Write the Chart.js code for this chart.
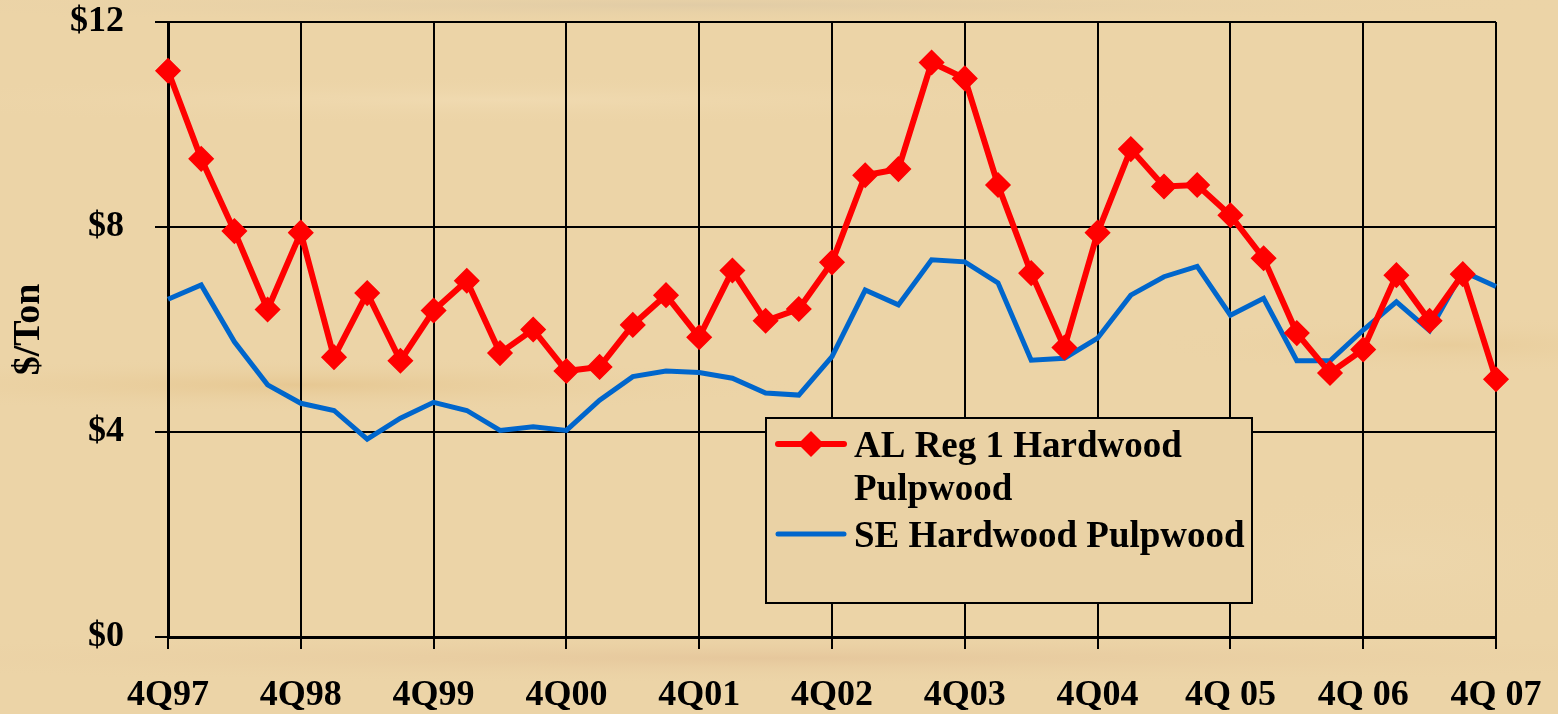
<!DOCTYPE html>
<html>
<head>
<meta charset="utf-8">
<script src="https://cdn.jsdelivr.net/npm/chart.js@4"></script>
<style>
  html, body { margin: 0; padding: 0; background: #ecd4a7; }
  canvas { display: block; }
</style>
</head>
<body>
<canvas id="myChart" width="1558" height="714"></canvas>
<script>
const quarters = [
    '4Q97',
    '1Q98', '2Q98', '3Q98', '4Q98',
    '1Q99', '2Q99', '3Q99', '4Q99',
    '1Q00', '2Q00', '3Q00', '4Q00',
    '1Q01', '2Q01', '3Q01', '4Q01',
    '1Q02', '2Q02', '3Q02', '4Q02',
    '1Q03', '2Q03', '3Q03', '4Q03',
    '1Q04', '2Q04', '3Q04', '4Q04',
    '1Q05', '2Q05', '3Q05', '4Q05',
    '1Q06', '2Q06', '3Q06', '4Q06',
    '1Q07', '2Q07', '3Q07', '4Q07'
];
const tickLabels = ['4Q97', '4Q98', '4Q99', '4Q00', '4Q01', '4Q02', '4Q03', '4Q04', '4Q 05', '4Q 06', '4Q 07'];

const alReg1 = [11.05, 9.33, 7.92, 6.39, 7.89, 5.46, 6.71, 5.39, 6.37, 6.95,
    5.54, 6.00, 5.19, 5.27, 6.09, 6.67, 5.85, 7.15, 6.17, 6.40,
    7.31, 9.01, 9.13, 11.21, 10.90, 8.82, 7.10, 5.65, 7.89, 9.52,
    8.79, 8.82, 8.23, 7.39, 5.93, 5.15, 5.61, 7.06, 6.17, 7.08, 5.03];
const seHardwood = [6.59, 6.87, 5.76, 4.92, 4.56, 4.42, 3.86, 4.27, 4.58, 4.42,
    4.03, 4.10, 4.03, 4.62, 5.08, 5.19, 5.16, 5.05, 4.76, 4.72,
    5.47, 6.77, 6.48, 7.36, 7.32, 6.91, 5.40, 5.44, 5.83, 6.67,
    7.03, 7.23, 6.28, 6.61, 5.39, 5.39, 5.99, 6.54, 5.98, 7.13, 6.84];

const serif = '"Liberation Serif", "DejaVu Serif", serif';

// parchment / wood-ish backdrop, soft streaks only
const woodBackground = {
    id: 'woodBackground',
    beforeDraw(chart) {
        const {ctx, width, height} = chart;
        ctx.save();
        ctx.fillStyle = '#ecd4a7';
        ctx.fillRect(0, 0, width, height);
        const streak = (cx, cy, rx, ry, color) => {
            ctx.save();
            ctx.translate(cx, cy);
            ctx.scale(rx / ry, 1);
            const g = ctx.createRadialGradient(0, 0, 0, 0, 0, ry);
            g.addColorStop(0, color);
            g.addColorStop(1, 'rgba(236,212,167,0)');
            ctx.fillStyle = g;
            ctx.fillRect(-ry, -ry, 2 * ry, 2 * ry);
            ctx.restore();
        };
        streak(700, 5, 900, 18, 'rgba(214,196,165,0.5)');
        streak(500, 100, 700, 25, 'rgba(244,224,186,0.5)');
        streak(300, 385, 520, 28, 'rgba(226,190,130,0.55)');
        streak(1450, 345, 300, 30, 'rgba(228,196,140,0.45)');
        streak(780, 658, 1100, 26, 'rgba(226,192,150,0.65)');
        streak(1400, 560, 250, 80, 'rgba(238,218,178,0.4)');
        ctx.restore();
    }
};

// boxed legend sitting inside the plot, like the original
const boxLegend = {
    id: 'boxLegend',
    afterDraw(chart, args, opts) {
        const {ctx, chartArea: a} = chart;
        const w = a.right - a.left, h = a.bottom - a.top;
        const x0 = Math.round(a.left + opts.left * w), x1 = Math.round(a.left + opts.right * w);
        const y0 = Math.round(a.top + opts.top * h), y1 = Math.round(a.top + opts.bottom * h);
        ctx.save();
        ctx.fillStyle = '#ead2a5';
        ctx.fillRect(x0, y0, x1 - x0, y1 - y0);
        ctx.strokeStyle = '#000';
        ctx.lineWidth = 2;
        ctx.strokeRect(x0, y0, x1 - x0, y1 - y0);
        ctx.font = 'bold 37px ' + serif;
        ctx.textBaseline = 'alphabetic';
        ctx.fillStyle = '#000';
        const textX = x0 + 88;
        const maxW = x1 - textX - 2;
        let y = y0 + 26;
        chart.data.datasets.forEach(ds => {
            ctx.strokeStyle = ds.borderColor;
            ctx.lineWidth = ds.borderWidth;
            ctx.lineCap = 'round';
            ctx.beginPath();
            ctx.moveTo(x0 + 12, y);
            ctx.lineTo(x0 + 78, y);
            ctx.stroke();
            if (ds.pointRadius > 0) {
                const r = ds.pointRadius + 1, cx = x0 + 45;
                ctx.fillStyle = ds.pointBackgroundColor;
                ctx.beginPath();
                ctx.moveTo(cx - r, y);
                ctx.lineTo(cx, y - r);
                ctx.lineTo(cx + r, y);
                ctx.lineTo(cx, y + r);
                ctx.closePath();
                ctx.fill();
            }
            ctx.fillStyle = '#000';
            const words = ds.label.split(' ');
            const lines = [];
            let cur = '';
            words.forEach(wd => {
                const test = cur ? cur + ' ' + wd : wd;
                if (cur && ctx.measureText(test).width > maxW) {
                    lines.push(cur);
                    cur = wd;
                } else {
                    cur = test;
                }
            });
            lines.push(cur);
            lines.forEach((l, i) => ctx.fillText(l, textX, y + 13 + i * 43));
            y += lines.length * 45;
        });
        ctx.restore();
    }
};

new Chart(document.getElementById('myChart'), {
    type: 'line',
    data: {
        labels: quarters,
        datasets: [{
            label: 'AL Reg 1 Hardwood Pulpwood',
            data: alReg1,
            borderColor: '#ff0000',
            backgroundColor: '#ff0000',
            borderWidth: 6,
            pointStyle: 'rectRot',
            pointRadius: 12,
            pointBackgroundColor: '#ff0000',
            pointBorderColor: '#ff0000',
            pointBorderWidth: 1.5,
            tension: 0,
            fill: false
        }, {
            label: 'SE Hardwood Pulpwood',
            data: seHardwood,
            borderColor: '#0066cc',
            backgroundColor: '#0066cc',
            borderWidth: 5,
            pointRadius: 0,
            tension: 0,
            fill: false
        }]
    },
    options: {
        responsive: false,
        animation: false,
        layout: {
            padding: {left: 0, top: 22, right: 62, bottom: 0}
        },
        plugins: {
            legend: {display: false},
            tooltip: {enabled: false},
            boxLegend: {left: 0.450, right: 0.816, top: 0.644, bottom: 0.945}
        },
        scales: {
            x: {
                afterFit: scale => {
                    scale.height = 77;
                    scale.paddingLeft = 0;
                    scale.paddingRight = 0;
                },
                grid: {
                    color: ctx => ctx.index % 4 === 0 ? '#000' : 'rgba(0,0,0,0)',
                    lineWidth: 2,
                    tickLength: 12
                },
                border: {color: '#000', width: 3},
                ticks: {
                    autoSkip: false,
                    maxRotation: 0,
                    padding: 25,
                    color: '#000',
                    font: {family: serif, size: 36, weight: 'bold'},
                    callback: (val, i) => i % 4 === 0 ? tickLabels[i / 4] : ''
                }
            },
            y: {
                min: 0,
                max: 12,
                afterFit: scale => {
                    scale.width = 168;
                    scale.paddingTop = 0;
                    scale.paddingBottom = 0;
                },
                grid: {
                    color: '#000',
                    lineWidth: 2,
                    tickLength: 13
                },
                border: {color: '#000', width: 3},
                ticks: {
                    stepSize: 4,
                    padding: 31,
                    color: '#000',
                    font: {family: serif, size: 36, weight: 'bold'},
                    callback: v => '$' + v
                },
                title: {
                    display: true,
                    text: '$/Ton',
                    color: '#000',
                    font: {family: serif, size: 38, weight: 'bold'},
                    padding: {top: 6, bottom: 0}
                }
            }
        }
    },
    plugins: [woodBackground, boxLegend]
});
</script>
</body>
</html>
